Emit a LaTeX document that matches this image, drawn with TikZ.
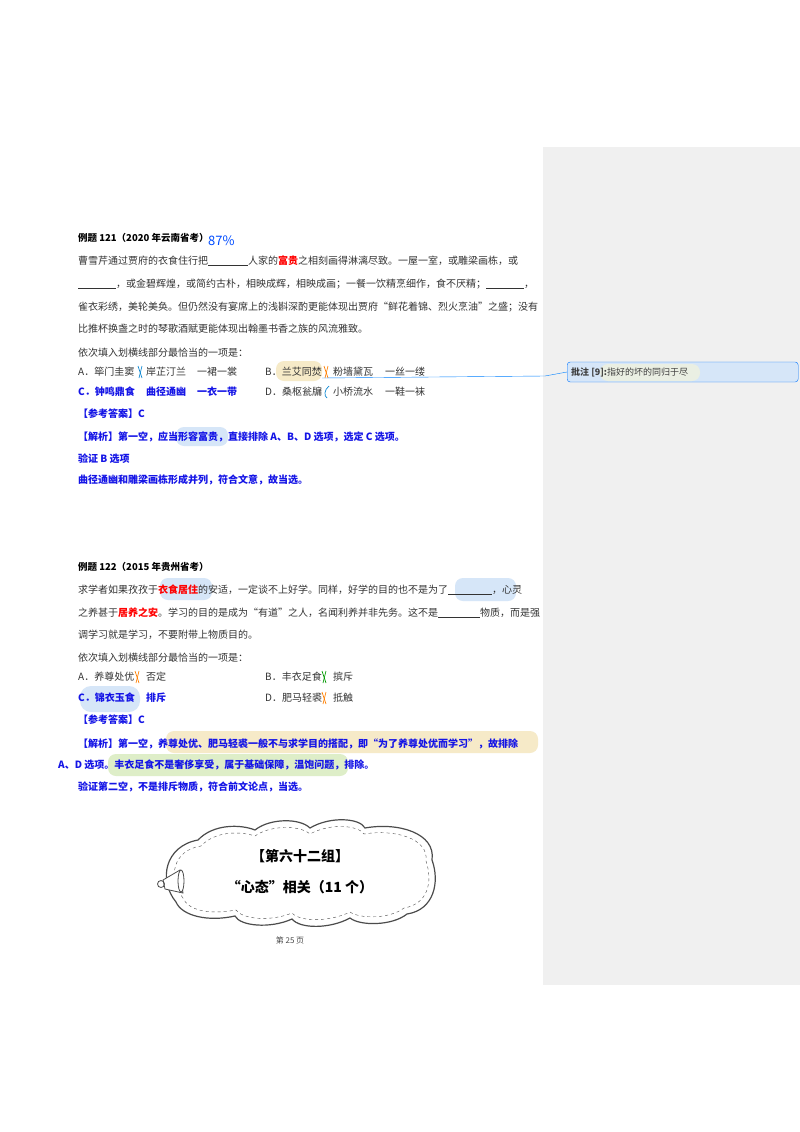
\documentclass[tikz,border=0pt]{standalone}
\usepackage{fontspec}
\setmainfont{Noto Sans CJK SC}
\definecolor{ansblue}{RGB}{20,20,230}
\definecolor{hlblue}{RGB}{214,230,248}
\definecolor{hltan}{RGB}{246,234,200}
\definecolor{hlgreen}{RGB}{222,238,200}
\definecolor{panel}{RGB}{240,240,240}
\newcommand{\blank}[1]{\underline{\hspace{#1}}}
\tikzset{txt/.style={anchor=base west,inner sep=0pt,font=\fontsize{10}{10}\selectfont,text=black!80},
 bl/.style={txt,text=ansblue,font=\fontsize{10}{10}\selectfont\bfseries},
 hd/.style={txt,text=black,font=\fontsize{9.5}{10}\selectfont\bfseries},
 hl/.style={rounded corners=8pt},
 mk/.style={line width=0.7pt}}
\newcommand{\xmark}[2]{\draw[mk,#1] ($(#2)+(-2,-6)$) -- ($(#2)+(2,6)$); \draw[mk,#1] ($(#2)+(2,-6)$) -- ($(#2)+(-1,6)$);}
\usetikzlibrary{calc}
\begin{document}
\begin{tikzpicture}[x=1pt,y=-1pt]
\useasboundingbox (0,0) rectangle (800,1132);
\fill[white] (0,0) rectangle (800,1132);
\fill[panel] (543,147) rectangle (800,985);
% highlights
\fill[hltan,hl] (276,361) rectangle (322,381);
\fill[hlblue,hl] (176,427) rectangle (228,446);
\fill[hlblue,hl] (160,578) rectangle (212,600);
\fill[hlblue,hl] (455,578) rectangle (516,601);
\fill[hlblue,rounded corners=11pt] (80,686) rectangle (140,712);
\fill[hltan,hl] (166,731) rectangle (538,753);
\fill[hlgreen,hl] (108,754) rectangle (348,776);
% Q121
\node[hd] (h1) at (78,241) {例题 121（2020 年云南省考）};
\node[txt,text=blue!70!cyan,font=\fontsize{13}{13}\itshape] (pct) at (208,245) {87\%};
\node[txt] (l1) at (78,264) {曹雪芹通过贾府的衣食住行把\blank{40pt}人家的\textcolor{red}{\bfseries 富贵}之相刻画得淋漓尽致。一屋一室，或雕梁画栋，或};
\node[txt] (l2) at (78,287) {\blank{38pt}，或金碧辉煌，或简约古朴，相映成辉，相映成画；一餐一饮精烹细作，食不厌精；\blank{38pt}，};
\node[txt] (l3) at (78,310) {雀衣彩绣，美轮美奂。但仍然没有宴席上的浅斟深酌更能体现出贾府“鲜花着锦、烈火烹油”之盛；没有};
\node[txt] (l4) at (78,332) {比推杯换盏之时的琴歌酒赋更能体现出翰墨书香之族的风流雅致。};
\node[txt] (q1) at (78,356) {依次填入划横线部分最恰当的一项是：};
\node[txt] (oa) at (78,375) {A．筚门圭窦};
\node[txt] (oa2) at (146,375) {岸芷汀兰};
\node[txt] (oa3) at (197,375) {一裙一裳};
\node[txt] (ob) at (265,375) {B．兰艾同焚};
\node[txt] (ob2) at (333,375) {粉墙黛瓦};
\node[txt] (ob3) at (385,375) {一丝一缕};
\node[bl] (oc) at (78,395) {C．钟鸣鼎食};
\node[bl] (oc2) at (146,395) {曲径通幽};
\node[bl] (oc3) at (197,395) {一衣一带};
\node[txt] (od) at (265,395) {D．桑枢瓮牖};
\node[txt] (od2) at (333,395) {小桥流水};
\node[txt] (od3) at (385,395) {一鞋一袜};
\node[bl] (a1) at (78,417) {【参考答案】C};
\node[bl] (e1) at (78,440) {【解析】第一空，应当形容富贵，直接排除 A、B、D 选项，选定 C 选项。};
\node[bl] (v1) at (78,462) {验证 B 选项};
\node[bl] (v2) at (78,483) {曲径通幽和雕梁画栋形成并列，符合文意，故当选。};
% marks
\coordinate (x1) at (140,372); \xmark{cyan!70!blue}{x1}
\coordinate (x2) at (326,372); \xmark{orange}{x2}
\draw[mk,cyan!70!blue] (329,386) .. controls (324,390) and (324,396) .. (327,398);
% comment
\node[draw=blue!55!cyan,fill=hlblue,rounded corners=3pt,minimum width=231pt,minimum height=20pt,anchor=west,inner sep=0pt] (cm) at (567,372) {};
\fill[hlgreen!80!gray!40,rounded corners=8pt] (600,364) rectangle (700,381);
\node[txt,text=black!75,font=\fontsize{9}{9}\selectfont] (ct) at (571,375) {\bfseries 批注 [9]:\mdseries 指好的坏的同归于尽};
\coordinate (cs) at (322,378);
\draw[blue!50!cyan,thin] (cs) -- (545,376) -- (cm.west);
% Q122
\node[hd] (h2) at (78,570) {例题 122（2015 年贵州省考）};
\node[txt] (k1) at (78,593) {求学者如果孜孜于\textcolor{red}{\bfseries 衣食居住}的安适，一定谈不上好学。同样，好学的目的也不是为了\blank{44pt}，心灵};
\node[txt] (k2) at (78,616) {之养甚于\textcolor{red}{\bfseries 居养之安}。学习的目的是成为“有道”之人，名闻利养并非先务。这不是\blank{42pt}物质，而是强};
\node[txt] (k3) at (78,638) {调学习就是学习，不要附带上物质目的。};
\node[txt] (q2) at (78,661) {依次填入划横线部分最恰当的一项是：};
\node[txt] (pa) at (78,680) {A．养尊处优};
\node[txt] (pa2) at (146,680) {否定};
\node[txt] (pb) at (265,680) {B．丰衣足食};
\node[txt] (pb2) at (333,680) {摈斥};
\node[bl] (pc) at (78,701) {C．锦衣玉食};
\node[bl] (pc2) at (146,701) {排斥};
\node[txt] (pd) at (265,701) {D．肥马轻裘};
\node[txt] (pd2) at (333,701) {抵触};
\coordinate (y1) at (137,677); \xmark{orange}{y1}
\coordinate (y2) at (324,677); \xmark{green!60!black}{y2}
\coordinate (y3) at (324,698); \xmark{orange}{y3}
\node[bl] (a2) at (78,723) {【参考答案】C};
\node[bl] (e2) at (78,747) {【解析】第一空，养尊处优、肥马轻裘一般不与求学目的搭配，即“为了养尊处优而学习”，故排除};
\node[bl] (e3) at (58,768) {A、D 选项。丰衣足食不是奢侈享受，属于基础保障，温饱问题，排除。};
\node[bl] (e4) at (78,790) {验证第二空，不是排斥物质，符合前文论点，当选。};
% cloud
\draw[gray!60!black,line width=1.2pt,fill=white] (176,902) .. controls (158,880) and (165,846) .. (198,840)
 .. controls (213,824) and (240,824) .. (255,830) .. controls (270,818) and (300,818) .. (310,828)
 .. controls (330,816) and (360,818) .. (365,828) .. controls (398,822) and (436,833) .. (432,860)
 .. controls (440,882) and (434,910) .. (407,914) .. controls (392,926) and (360,926) .. (350,918)
 .. controls (330,929) and (300,929) .. (292,919) .. controls (270,929) and (240,926) .. (235,916)
 .. controls (208,922) and (182,916) .. (176,902) -- cycle;
\draw[gray!60!black,dashed,thin] (183,898) .. controls (167,878) and (173,850) .. (201,846)
 .. controls (215,831) and (240,831) .. (255,836) .. controls (270,825) and (300,825) .. (310,834)
 .. controls (330,823) and (358,825) .. (364,834) .. controls (394,829) and (429,838) .. (426,861)
 .. controls (433,882) and (428,904) .. (404,908) .. controls (390,919) and (360,919) .. (350,912)
 .. controls (330,922) and (300,922) .. (292,913) .. controls (270,922) and (242,919) .. (236,910)
 .. controls (208,915) and (188,910) .. (183,898) -- cycle;
% megaphone
\draw[gray!60!black,line width=0.8pt,fill=white] (163,880) -- (180,870) -- (183,893) -- (165,889) -- cycle;
\draw[gray!60!black,line width=0.8pt,fill=white] (181,881) ellipse (3pt and 11pt);
\draw[gray!60!black,line width=0.8pt] (161,884) circle (3.5pt);
\node[font=\fontsize{14}{14}\selectfont\bfseries] (t1) at (300,856) {【第六十二组】};
\node[font=\fontsize{14}{14}\selectfont\bfseries] (t2) at (300,887) {“心态”相关（11 个）};
\node[font=\fontsize{8}{8}\selectfont,text=black!70] (pg) at (290,940) {第 25 页};
\end{tikzpicture}
\end{document}
